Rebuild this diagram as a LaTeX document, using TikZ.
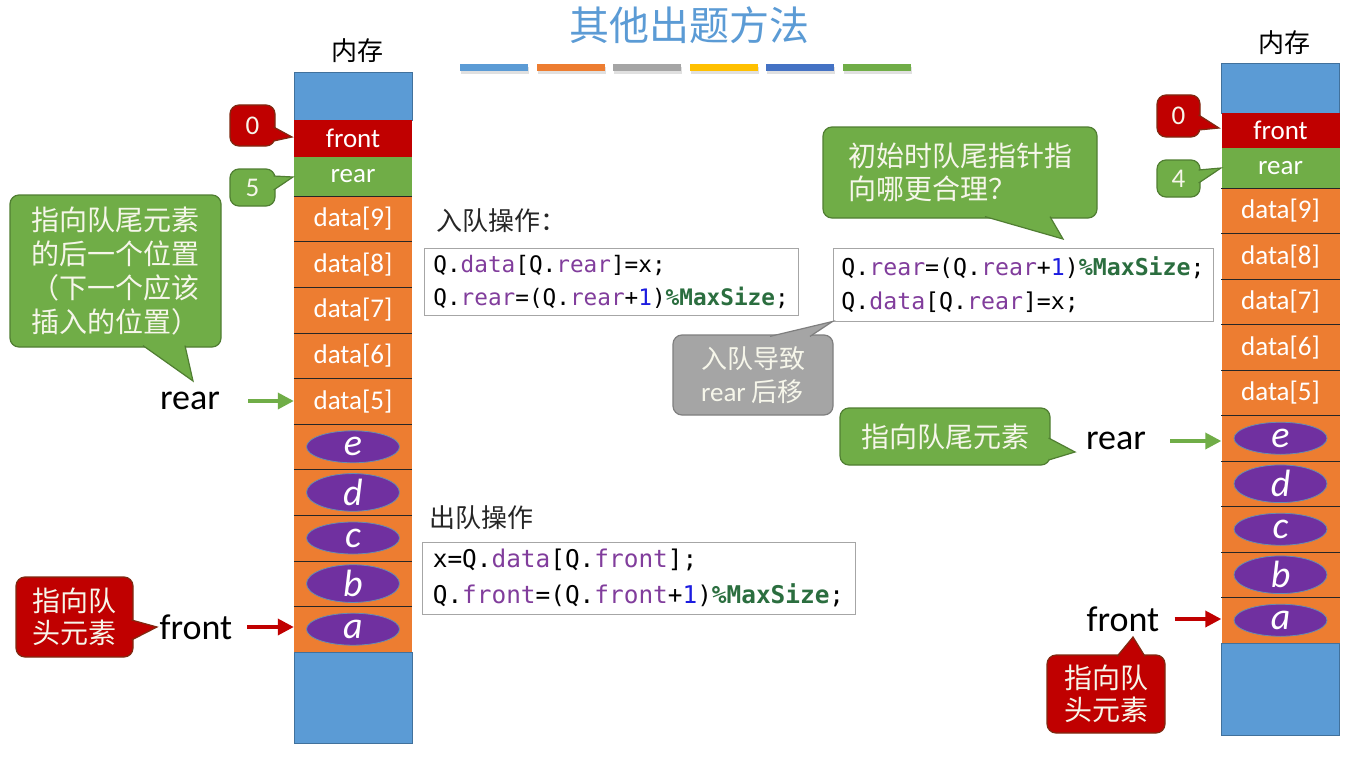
\documentclass[tikz,border=0pt]{standalone}
\usepackage{fontspec}
\setmainfont{Carlito}
\setmonofont{DejaVu Sans Mono}
\newfontfamily\cjk{Noto Sans CJK SC}
\usetikzlibrary{shapes.geometric,arrows.meta}
\definecolor{cblue}{HTML}{5B9BD5}
\definecolor{cblueb}{HTML}{41719C}
\definecolor{corange}{HTML}{ED7D31}
\definecolor{cred}{HTML}{C00000}
\definecolor{credb}{HTML}{7F2A12}
\definecolor{cgreen}{HTML}{70AD47}
\definecolor{cgreenb}{HTML}{507E32}
\definecolor{cgray}{HTML}{A5A5A5}
\definecolor{cgrayb}{HTML}{7F7F7F}
\definecolor{cyellow}{HTML}{FFC000}
\definecolor{cdblue}{HTML}{4472C4}
\definecolor{cpurple}{HTML}{7030A0}
\definecolor{ctext}{HTML}{F6F6EA}
\definecolor{kwpurple}{HTML}{813D9C}
\definecolor{numblue}{HTML}{1C1CE0}
\definecolor{msgreen}{HTML}{2B6E3F}
\newcommand\cdkw[1]{\textcolor{kwpurple}{#1}}
\newcommand\cdnum[1]{\textcolor{numblue}{#1}}
\newcommand\cdms{\textcolor{msgreen}{\bfseries\%MaxSize}}
\newcommand\calltail[5]{\fill[#1] #3 -- #4 -- #5 -- cycle; \draw[#2, line width=1.2pt, line join=miter] #3 -- #4 -- #5;}
\tikzset{
  cell/.style={rectangle, minimum width=118, inner sep=0, text=white, font=\fontsize{27}{27}\selectfont},
  cellblue/.style={rectangle, minimum width=118, inner sep=0, fill=cblue, draw=cblueb, line width=0.6pt},
  elem/.style={ellipse, minimum width=93, minimum height=32, inner sep=0, fill=cpurple, draw=cblueb!80, line width=0.8pt, text=white, font=\itshape\fontsize{38}{38}\selectfont},
  sep/.style={line width=1pt, black!85},
  mem/.style={font=\cjk\fontsize{26}{26}\selectfont, inner sep=1pt},
  lbl/.style={font=\fontsize{36}{36}\selectfont, inner sep=2pt, text=black},
  callbox/.style={rectangle, rounded corners=9pt, line width=1.2pt, inner sep=0, text=ctext, align=left},
  callG/.style={callbox, fill=cgreen, draw=cgreenb},
  callR/.style={callbox, fill=cred, draw=credb},
  callY/.style={callbox, fill=cgray, draw=cgrayb},
  cjkc/.style={font=\cjk\fontsize{28}{34}\selectfont},
  numc/.style={font=\fontsize{27}{27}\selectfont},
  codebox/.style={rectangle, draw=black!35, line width=1pt, fill=white, inner sep=0, align=left},
  hdr/.style={font=\cjk\fontsize{26}{26}\selectfont, text=black!85, inner sep=0, anchor=west},
  parrow/.style={line width=3.5pt, -{Triangle[length=16pt,width=16pt]}}
}
\begin{document}
\begin{tikzpicture}[x=1pt,y=-1pt]
\useasboundingbox (0,0) rectangle (1364,757);
\fill[white] (0,0) rectangle (1364,757);
% title
\node[font=\cjk\fontsize{40}{40}\selectfont, text=cblue, inner sep=0] (title) at (689,25) {其他出题方法};
\foreach \c [count=\i from 0] in {cblue,corange,cgray,cyellow,cdblue,cgreen}{
  \fill[black!12] (461+76.6*\i,67) rectangle ++(68,7);
  \fill[\c] (460+76.6*\i,64) rectangle ++(68,7);
}
% ---------- left memory column ----------
\node[mem] (memL) at (357,51) {内存};
\node[cellblue, minimum height=48] (Ltop) at (353,96) {};
\node[cell, fill=cred, minimum height=37] (Lf) at (353,138.5) {front};
\node[cell, fill=cgreen, minimum height=39] (Lr) at (353,176.5) {rear};
\foreach \n [count=\i from 0] in {9,8,7,6,5}
  \node[cell, fill=corange, minimum height=45.6] (L\n) at (353,218.8+45.6*\i) {data[\n]};
\foreach \n [count=\i from 5] in {e,d,c,b,a}{
  \node[cell, fill=corange, minimum height=45.6] (L\n) at (353,218.8+45.6*\i) {};
  \node[elem] (LE\n) at (L\n) {\n};
}
\node[cellblue, minimum height=91] (Lbot) at (353,697.5) {};
\foreach \n in {r,9,8,7,6,5,e,d,c,b}
  \draw[sep] (L\n.south west) -- (L\n.south east);
% ---------- right memory column ----------
\node[mem] (memR) at (1284,43) {内存};
\node[cellblue, minimum height=50] (Rtop) at (1280.5,88) {};
\node[cell, fill=cred, minimum height=35] (Rf) at (1280.5,130.5) {front};
\node[cell, fill=cgreen, minimum height=40] (Rr) at (1280.5,168) {rear};
\foreach \n [count=\i from 0] in {9,8,7,6,5}
  \node[cell, fill=corange, minimum height=45.5] (R\n) at (1280.5,210.75+45.5*\i) {data[\n]};
\foreach \n [count=\i from 5] in {e,d,c,b,a}{
  \node[cell, fill=corange, minimum height=45.5] (R\n) at (1280.5,210.75+45.5*\i) {};
  \node[elem] (RE\n) at (R\n) {\n};
}
\node[cellblue, minimum height=92] (Rbot) at (1280.5,689) {};
\foreach \n in {r,9,8,7,6,5,e,d,c,b}
  \draw[sep] (R\n.south west) -- (R\n.south east);
% ---------- left callouts ----------
\node[callR, numc, minimum width=45, minimum height=41, align=center] (c0L) at (252.5,125.5) {0};
\calltail{cred}{credb}{(273.6,127)}{(292,137)}{(273.6,141)}
\node[callG, numc, minimum width=45, minimum height=37, align=center] (c5L) at (252.5,187.5) {5};
\calltail{cgreen}{cgreenb}{(273.6,176)}{(293,177)}{(273.6,190)}
\node[callG, cjkc, minimum width=211, minimum height=152] (cbig) at (115.5,271)
  {指向队尾元素\\的后一个位置\\（下一个应该\\插入的位置）};
\calltail{cgreen}{cgreenb}{(143,345.6)}{(193,381)}{(185,345.6)}
\node[callR, cjkc, minimum width=117, minimum height=80, font=\cjk\fontsize{28}{32}\selectfont] (credL) at (74.5,617) {指向队\\头元素};
\calltail{cred}{credb}{(131.6,620)}{(157,627)}{(131.6,640)}
% labels and arrows (left)
\node[lbl] (lrearL) at (190,401) {rear};
\draw[parrow, cgreen, shorten <=26pt] (lrearL.east) -- (lrearL.east -| L5.west);
\node[lbl] (lfrontL) at (196,627) {front};
\draw[parrow, cred, shorten <=13pt] (lfrontL.east) -- (lfrontL.east -| La.west);
% ---------- code (left) ----------
\node[hdr] (hin) at (436,221) {入队操作：};
\node[codebox, minimum width=374, minimum height=67, font=\ttfamily\fontsize{22.7}{33}\selectfont] (code1) at (611,281.5)
  {Q.\cdkw{data}[Q.\cdkw{rear}]=x;\\Q.\cdkw{rear}=(Q.\cdkw{rear}+\cdnum{1})\cdms;};
\node[hdr] (hout) at (429,518) {出队操作};
\node[codebox, minimum width=433, minimum height=72, font=\ttfamily\fontsize{24.4}{36}\selectfont] (code2) at (638.5,578)
  {x=Q.\cdkw{data}[Q.\cdkw{front}];\\Q.\cdkw{front}=(Q.\cdkw{front}+\cdnum{1})\cdms;};
% ---------- right part ----------
\node[callG, cjkc, minimum width=274, minimum height=91, font=\cjk\fontsize{28}{33}\selectfont] (cq) at (960,172.5) {初始时队尾指针指\\向哪更合理？};
\calltail{cgreen}{cgreenb}{(985,216.6)}{(1063,239)}{(1050,216.6)}
\node[codebox, minimum width=380, minimum height=73, font=\ttfamily\fontsize{23.2}{34}\selectfont] (code3) at (1023,284.5)
  {Q.\cdkw{rear}=(Q.\cdkw{rear}+\cdnum{1})\cdms;\\Q.\cdkw{data}[Q.\cdkw{rear}]=x;};
\node[callY, minimum width=160, minimum height=80, font=\cjk\fontsize{26}{33}\selectfont] (cgr) at (753,375) {入队导致\\{\rmfamily\fontsize{27}{33}\selectfont rear} 后移};
\calltail{cgray}{cgrayb}{(770,336.4)}{(code3.south west)}{(810,336.4)}
\node[callG, cjkc, minimum width=210, minimum height=57] (cre) at (945,436.5) {指向队尾元素};
\calltail{cgreen}{cgreenb}{(1048.6,438)}{(1075,452)}{(1048.6,460)}
\node[lbl] (lrearR) at (1116,441) {rear};
\draw[parrow, cgreen, shorten <=22pt] (lrearR.east) -- (lrearR.east -| Re.west);
\node[lbl] (lfrontR) at (1123,619) {front};
\draw[parrow, cred, shorten <=13pt] (lfrontR.east) -- (lfrontR.east -| Ra.west);
\node[callR, minimum width=118, minimum height=78, font=\cjk\fontsize{28}{32}\selectfont] (credR) at (1106,694) {指向队\\头元素};
\calltail{cred}{credb}{(1117,656.4)}{(1133,637)}{(1145,656.4)}
\node[callR, numc, minimum width=43, minimum height=42, align=center] (c0R) at (1178.5,116) {0};
\calltail{cred}{credb}{(1198.6,115)}{(1219,128)}{(1198.6,130)}
\node[callG, numc, minimum width=43, minimum height=37, align=center] (c4R) at (1178.5,178.5) {4};
\calltail{cgreen}{cgreenb}{(1198.6,170)}{(1221,168)}{(1198.6,183)}
\end{tikzpicture}
\end{document}
